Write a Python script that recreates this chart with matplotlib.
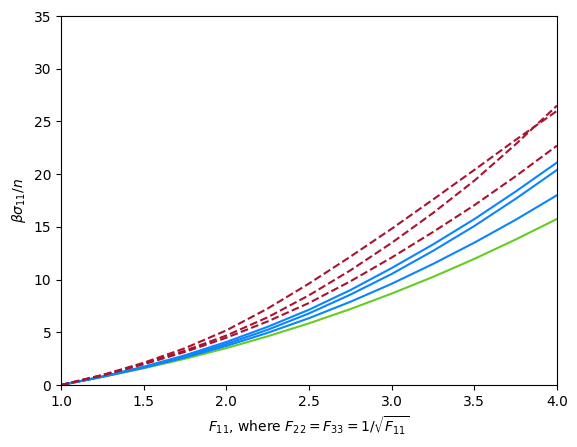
import numpy as np
import matplotlib
matplotlib.use("Agg")
import matplotlib.pyplot as plt

# stretch F11
F11 = [1.0, 1.25, 1.5, 1.75, 2.0, 2.25, 2.5, 2.75, 3.0, 3.25, 3.5, 3.75, 4.0]

stress_green = [0.0, 0.76, 1.58, 2.49, 3.50, 4.62, 5.85, 7.20, 8.67, 10.25, 11.96, 13.80, 15.75]

stress_blue = [
    [0.0, 0.78, 1.64, 2.61, 3.71, 4.95, 6.34, 7.89, 9.60, 11.48, 13.50, 15.67, 18.00],
    [0.0, 0.79, 1.68, 2.70, 3.89, 5.24, 6.79, 8.57, 10.53, 12.72, 15.08, 17.66, 20.40],
    [0.0, 0.80, 1.73, 2.82, 4.08, 5.52, 7.14, 9.00, 11.09, 13.33, 15.73, 18.35, 21.10],
]

stress_red = [
    [0.0, 0.92, 1.96, 3.14, 4.48, 6.03, 7.78, 9.83, 12.09, 14.51, 17.05, 19.80, 22.70],
    [0.0, 0.93, 2.03, 3.26, 4.69, 6.42, 8.51, 10.87, 13.48, 16.31, 19.38, 22.83, 26.50],
    [0.0, 0.95, 2.11, 3.49, 5.18, 7.25, 9.62, 12.17, 14.82, 17.59, 20.40, 23.25, 26.00],
]

C_GREEN = "#66cc1f"
C_BLUE = "#0a84ff"
C_RED = "#a8132f"

fig = plt.figure(figsize=(5.77, 4.47), dpi=100)
ax = fig.add_axes([0.1057, 0.1387, 0.8596, 0.8255])

ax.plot(F11, stress_green, color=C_GREEN)
for s in stress_blue:
    ax.plot(F11, s, color=C_BLUE)
for s in stress_red:
    ax.plot(F11, s, color=C_RED, linestyle="--")

ax.set_xlim(1, 4)
ax.set_ylim(0, 35)
ax.set_xlabel(r"$F_{11}$, where $F_{22} = F_{33} = 1/\sqrt{F_{11}}$")
ax.set_ylabel(r"$\beta\sigma_{11}/n$")

fig.savefig("out.png", dpi=100)
